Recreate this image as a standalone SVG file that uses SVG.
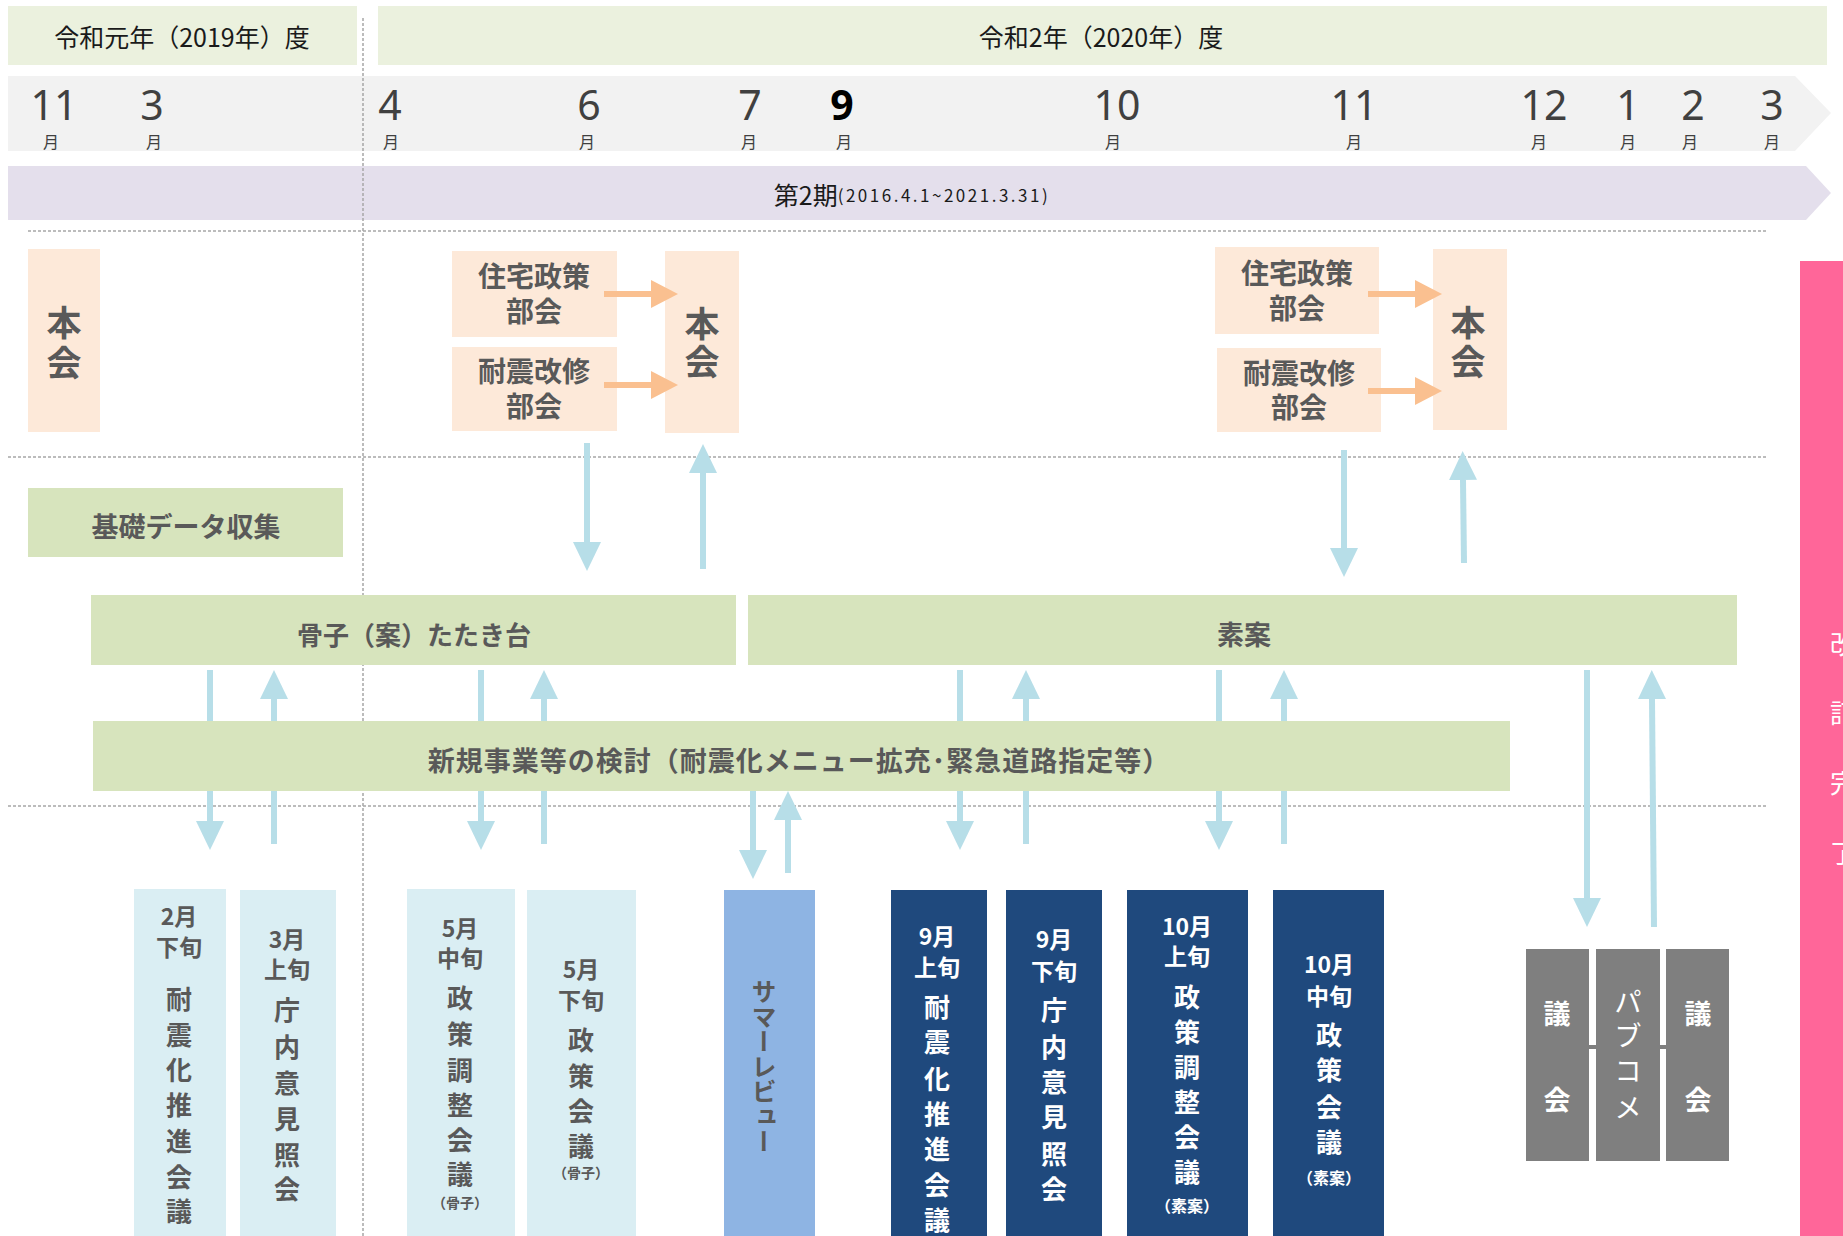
<svg xmlns="http://www.w3.org/2000/svg" width="1843" height="1236" viewBox="0 0 1843 1236">
<style>
text{font-family:"Noto Sans CJK JP","Noto Sans",sans-serif;text-anchor:middle;dominant-baseline:central}
.lbl{font-weight:bold;fill:#595959}
.yr{fill:#1a1a1a;font-size:25px}
.mn{fill:#404040;font-size:41px;font-family:"Noto Sans","Noto Sans CJK JP",sans-serif}
.mk{fill:#404040;font-size:16px}
.wt{fill:#ffffff;font-weight:bold}
.dot{stroke:#A6A6A6;stroke-width:1.5;stroke-dasharray:3 2;fill:none}
.ba{stroke:#B7DEE8;stroke-width:6;fill:none}
.oa{stroke:#FAC090;stroke-width:6;fill:none}
.peach{fill:#FDE9D9}
.green{fill:#D7E4BD}
.lb{fill:#DAEEF3}
.navy{fill:#1F497D}
.gray{fill:#7F7F7F}
</style>
<defs>
<marker id="hb" markerUnits="userSpaceOnUse" markerWidth="29" markerHeight="28" viewBox="0 0 29 28" refX="0" refY="14" orient="auto"><path d="M0,0 L29,14 L0,28 z" fill="#B7DEE8"/></marker>
<marker id="ho" markerUnits="userSpaceOnUse" markerWidth="27" markerHeight="28" viewBox="0 0 27 28" refX="0" refY="14" orient="auto"><path d="M0,0 L27,14 L0,28 z" fill="#FAC090"/></marker>
</defs>
<rect width="1843" height="1236" fill="#ffffff"/>

<g id="year2019"><rect x="8" y="6" width="349" height="59" fill="#EBF1DE"/><text x="182" y="36" class="yr">令和元年（2019年）度</text></g>
<g id="year2020"><rect x="378" y="6" width="1449" height="59" fill="#EBF1DE"/><text x="1101" y="36" class="yr">令和2年（2020年）度</text></g>

<g id="months">
<path d="M8,76 H1795 L1831,113 L1795,151 H8 Z" fill="#F2F2F2"/>
<text x="54" y="104" class="mn">11</text><text x="51" y="141" class="mk">月</text>
<text x="152" y="104" class="mn">3</text><text x="154" y="141" class="mk">月</text>
<text x="390" y="104" class="mn">4</text><text x="391" y="141" class="mk">月</text>
<text x="589" y="104" class="mn">6</text><text x="587" y="141" class="mk">月</text>
<text x="750" y="104" class="mn">7</text><text x="749" y="141" class="mk">月</text>
<text x="842" y="104" class="mn" style="fill:#000;font-weight:bold">9</text><text x="844" y="141" class="mk">月</text>
<text x="1117" y="104" class="mn">10</text><text x="1113" y="141" class="mk">月</text>
<text x="1354" y="104" class="mn">11</text><text x="1354" y="141" class="mk">月</text>
<text x="1544" y="104" class="mn">12</text><text x="1539" y="141" class="mk">月</text>
<text x="1628" y="104" class="mn">1</text><text x="1628" y="141" class="mk">月</text>
<text x="1693" y="104" class="mn">2</text><text x="1690" y="141" class="mk">月</text>
<text x="1772" y="104" class="mn">3</text><text x="1772" y="141" class="mk">月</text>
</g>

<g id="period">
<path d="M8,166 H1806 L1831,193 L1806,220 H8 Z" fill="#E4DFEC"/>
<text x="912" y="194" style="fill:#1a1a1a;font-size:25px">第2期<tspan style="font-size:17px;letter-spacing:2.5px">(2016.4.1~2021.3.31)</tspan></text>
</g>

<g id="gridlines">
<line x1="363" y1="18" x2="363" y2="1236" class="dot"/>
<line x1="28" y1="231" x2="1768" y2="231" class="dot"/>
<line x1="8" y1="457" x2="1768" y2="457" class="dot"/>
<line x1="8" y1="806" x2="1768" y2="806" class="dot"/>
</g>

<g id="honkai1"><rect x="28" y="249" width="72" height="183" class="peach"/><text class="lbl" style="font-size:35px"><tspan x="64" y="320">本</tspan><tspan x="64" y="360">会</tspan></text></g>
<g id="jutaku1"><rect x="452" y="251" width="165" height="86" class="peach"/><text class="lbl" style="font-size:28px"><tspan x="534" y="275">住宅政策</tspan><tspan x="534" y="310">部会</tspan></text></g>
<g id="taishin1"><rect x="452" y="347" width="165" height="84" class="peach"/><text class="lbl" style="font-size:28px"><tspan x="534" y="370">耐震改修</tspan><tspan x="534" y="405">部会</tspan></text></g>
<g id="honkai2"><rect x="665" y="251" width="74" height="182" class="peach"/><text class="lbl" style="font-size:35px"><tspan x="702" y="321">本</tspan><tspan x="702" y="359">会</tspan></text></g>
<g id="jutaku2"><rect x="1215" y="247" width="164" height="87" class="peach"/><text class="lbl" style="font-size:28px"><tspan x="1297" y="272">住宅政策</tspan><tspan x="1297" y="307">部会</tspan></text></g>
<g id="taishin2"><rect x="1217" y="348" width="164" height="84" class="peach"/><text class="lbl" style="font-size:28px"><tspan x="1299" y="372">耐震改修</tspan><tspan x="1299" y="406">部会</tspan></text></g>
<g id="honkai3"><rect x="1433" y="249" width="74" height="181" class="peach"/><text class="lbl" style="font-size:35px"><tspan x="1468" y="320">本</tspan><tspan x="1468" y="359">会</tspan></text></g>

<g id="connectors">
<line x1="604" y1="294" x2="651" y2="294" class="oa" marker-end="url(#ho)"/>
<line x1="604" y1="385" x2="651" y2="385" class="oa" marker-end="url(#ho)"/>
<line x1="1368" y1="294" x2="1415" y2="294" class="oa" marker-end="url(#ho)"/>
<line x1="1368" y1="391" x2="1415" y2="391" class="oa" marker-end="url(#ho)"/>
<line x1="587" y1="443" x2="587" y2="542" class="ba" marker-end="url(#hb)"/>
<line x1="703" y1="569" x2="703" y2="473" class="ba" marker-end="url(#hb)"/>
<line x1="1344" y1="450" x2="1344" y2="548" class="ba" marker-end="url(#hb)"/>
<line x1="1464" y1="563" x2="1463" y2="480" class="ba" marker-end="url(#hb)"/>
<line x1="210" y1="670" x2="210" y2="821" class="ba" marker-end="url(#hb)"/>
<line x1="274" y1="844" x2="274" y2="699" class="ba" marker-end="url(#hb)"/>
<line x1="481" y1="670" x2="481" y2="821" class="ba" marker-end="url(#hb)"/>
<line x1="544" y1="844" x2="544" y2="699" class="ba" marker-end="url(#hb)"/>
<line x1="753" y1="791" x2="753" y2="850" class="ba" marker-end="url(#hb)"/>
<line x1="788" y1="873" x2="788" y2="820" class="ba" marker-end="url(#hb)"/>
<line x1="960" y1="670" x2="960" y2="821" class="ba" marker-end="url(#hb)"/>
<line x1="1026" y1="844" x2="1026" y2="699" class="ba" marker-end="url(#hb)"/>
<line x1="1219" y1="670" x2="1219" y2="821" class="ba" marker-end="url(#hb)"/>
<line x1="1284" y1="844" x2="1284" y2="699" class="ba" marker-end="url(#hb)"/>
<line x1="1587" y1="670" x2="1587" y2="898" class="ba" marker-end="url(#hb)"/>
<line x1="1654" y1="927" x2="1652" y2="699" class="ba" marker-end="url(#hb)"/>
</g>

<g id="kiso"><rect x="28" y="488" width="315" height="69" class="green"/><text x="186" y="525" class="lbl" style="font-size:27px">基礎データ収集</text></g>
<g id="kossi"><rect x="91" y="595" width="645" height="70" class="green"/><text x="414" y="633" class="lbl" style="font-size:26px">骨子（案）たたき台</text></g>
<g id="soan"><rect x="748" y="595" width="989" height="70" class="green"/><text x="1244" y="633" class="lbl" style="font-size:27px">素案</text></g>
<g id="shinki"><rect x="93" y="721" width="1417" height="70" class="green"/><text x="799" y="759" class="lbl" style="font-size:27px;letter-spacing:1px">新規事業等の検討（耐震化メニュー拡充･緊急道路指定等）</text></g>

<g id="b1"><rect x="134" y="889" width="92" height="347" class="lb"/><text class="lbl"><tspan x="179" y="915" style="font-size:23px">2月</tspan><tspan x="179" y="946" style="font-size:23px">下旬</tspan><tspan x="179" y="997" style="font-size:26px">耐</tspan><tspan x="179" y="1033" style="font-size:26px">震</tspan><tspan x="179" y="1068" style="font-size:26px">化</tspan><tspan x="179" y="1103" style="font-size:26px">推</tspan><tspan x="179" y="1139" style="font-size:26px">進</tspan><tspan x="179" y="1175" style="font-size:26px">会</tspan><tspan x="179" y="1209" style="font-size:26px">議</tspan></text></g>
<g id="b2"><rect x="240" y="890" width="96" height="346" class="lb"/><text class="lbl"><tspan x="287" y="938" style="font-size:23px">3月</tspan><tspan x="287" y="968" style="font-size:23px">上旬</tspan><tspan x="287" y="1008" style="font-size:26px">庁</tspan><tspan x="287" y="1045" style="font-size:26px">内</tspan><tspan x="287" y="1081" style="font-size:26px">意</tspan><tspan x="287" y="1117" style="font-size:26px">見</tspan><tspan x="287" y="1153" style="font-size:26px">照</tspan><tspan x="287" y="1187" style="font-size:26px">会</tspan></text></g>
<g id="b3"><rect x="407" y="889" width="108" height="347" class="lb"/><text class="lbl"><tspan x="460" y="927" style="font-size:23px">5月</tspan><tspan x="460" y="957" style="font-size:23px">中旬</tspan><tspan x="460" y="996" style="font-size:26px">政</tspan><tspan x="460" y="1032" style="font-size:26px">策</tspan><tspan x="460" y="1068" style="font-size:26px">調</tspan><tspan x="460" y="1103" style="font-size:26px">整</tspan><tspan x="460" y="1138" style="font-size:26px">会</tspan><tspan x="460" y="1172" style="font-size:26px">議</tspan><tspan x="460" y="1202" style="font-size:14px">（骨子）</tspan></text></g>
<g id="b4"><rect x="527" y="890" width="109" height="346" class="lb"/><text class="lbl"><tspan x="581" y="968" style="font-size:23px">5月</tspan><tspan x="581" y="999" style="font-size:23px">下旬</tspan><tspan x="581" y="1038" style="font-size:26px">政</tspan><tspan x="581" y="1074" style="font-size:26px">策</tspan><tspan x="581" y="1109" style="font-size:26px">会</tspan><tspan x="581" y="1144" style="font-size:26px">議</tspan><tspan x="581" y="1172" style="font-size:14px">（骨子）</tspan></text></g>
<g id="summer"><rect x="724" y="890" width="91" height="346" fill="#8EB4E3"/><text x="764" y="1066" style="writing-mode:vertical-rl;font-size:25px;fill:#595959;font-weight:bold;text-anchor:middle">サマーレビュー</text></g>
<g id="n1"><rect x="891" y="890" width="96" height="346" class="navy"/><text class="wt"><tspan x="937" y="935" style="font-size:23px">9月</tspan><tspan x="937" y="966" style="font-size:23px">上旬</tspan><tspan x="937" y="1005" style="font-size:26px">耐</tspan><tspan x="937" y="1040" style="font-size:26px">震</tspan><tspan x="937" y="1077" style="font-size:26px">化</tspan><tspan x="937" y="1112" style="font-size:26px">推</tspan><tspan x="937" y="1147" style="font-size:26px">進</tspan><tspan x="937" y="1183" style="font-size:26px">会</tspan><tspan x="937" y="1218" style="font-size:26px">議</tspan></text></g>
<g id="n2"><rect x="1006" y="890" width="96" height="346" class="navy"/><text class="wt"><tspan x="1054" y="938" style="font-size:23px">9月</tspan><tspan x="1054" y="970" style="font-size:23px">下旬</tspan><tspan x="1054" y="1008" style="font-size:26px">庁</tspan><tspan x="1054" y="1045" style="font-size:26px">内</tspan><tspan x="1054" y="1080" style="font-size:26px">意</tspan><tspan x="1054" y="1115" style="font-size:26px">見</tspan><tspan x="1054" y="1152" style="font-size:26px">照</tspan><tspan x="1054" y="1187" style="font-size:26px">会</tspan></text></g>
<g id="n3"><rect x="1127" y="890" width="121" height="346" class="navy"/><text class="wt"><tspan x="1187" y="925" style="font-size:23px">10月</tspan><tspan x="1187" y="955" style="font-size:23px">上旬</tspan><tspan x="1187" y="995" style="font-size:26px">政</tspan><tspan x="1187" y="1030" style="font-size:26px">策</tspan><tspan x="1187" y="1065" style="font-size:26px">調</tspan><tspan x="1187" y="1100" style="font-size:26px">整</tspan><tspan x="1187" y="1135" style="font-size:26px">会</tspan><tspan x="1187" y="1170" style="font-size:26px">議</tspan><tspan x="1187" y="1205" style="font-size:16px">（素案）</tspan></text></g>
<g id="n4"><rect x="1273" y="890" width="111" height="346" class="navy"/><text class="wt"><tspan x="1329" y="963" style="font-size:23px">10月</tspan><tspan x="1329" y="995" style="font-size:23px">中旬</tspan><tspan x="1329" y="1033" style="font-size:26px">政</tspan><tspan x="1329" y="1068" style="font-size:26px">策</tspan><tspan x="1329" y="1105" style="font-size:26px">会</tspan><tspan x="1329" y="1140" style="font-size:26px">議</tspan><tspan x="1329" y="1177" style="font-size:16px">（素案）</tspan></text></g>

<g id="gikai1"><rect x="1526" y="949" width="63" height="212" class="gray"/><text class="wt" style="font-size:27px"><tspan x="1557" y="1012">議</tspan><tspan x="1557" y="1098">会</tspan></text></g>
<g id="pabukome"><rect x="1596" y="949" width="64" height="212" class="gray"/><text style="fill:#fff;font-size:27px"><tspan x="1628" y="1000">パ</tspan><tspan x="1628" y="1034">ブ</tspan><tspan x="1628" y="1069">コ</tspan><tspan x="1628" y="1106">メ</tspan></text></g>
<g id="gikai2"><rect x="1666" y="949" width="63" height="212" class="gray"/><text class="wt" style="font-size:27px"><tspan x="1698" y="1012">議</tspan><tspan x="1698" y="1098">会</tspan></text></g>
<rect x="1589" y="1045" width="7" height="4" class="gray"/>
<rect x="1660" y="1045" width="6" height="4" class="gray"/>

<g id="kaitei"><rect x="1800" y="261" width="43" height="975" fill="#FF6699"/><text class="wt" style="font-size:26px;font-weight:normal"><tspan x="1843" y="642">改</tspan><tspan x="1843" y="711">訂</tspan><tspan x="1843" y="781">完</tspan><tspan x="1843" y="851">了</tspan></text></g>
</svg>
